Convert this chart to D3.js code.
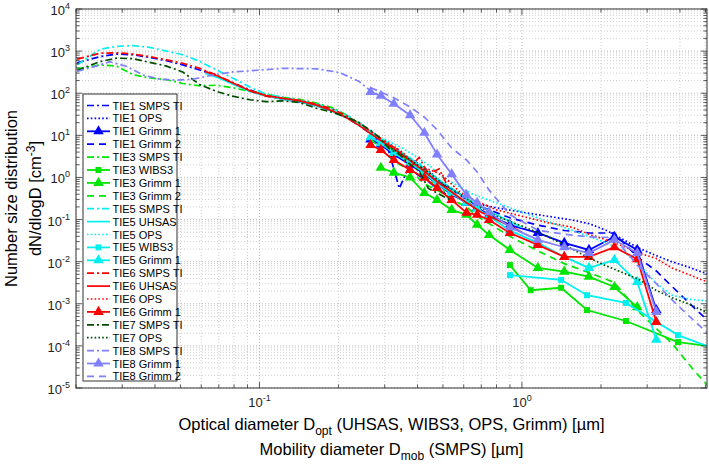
<!DOCTYPE html>
<html>
<head>
<meta charset="utf-8">
<script src="https://cdn.jsdelivr.net/npm/d3@7"></script>
<style>
  body { margin: 0; background: #fff; }
  text { font-family: "Liberation Sans", Arial, Helvetica, sans-serif; }
</style>
</head>
<body>
<div id="chart"></div>
<script>
// ---- data (diameter in µm, dN/dlogD in cm^-3) ----
const smpsD = [0.0202, 0.0247, 0.0286, 0.033, 0.0382, 0.0443, 0.051, 0.0592, 0.0687, 0.079, 0.092, 0.106, 0.123, 0.142, 0.165, 0.19, 0.215, 0.24, 0.265, 0.286, 0.31, 0.341, 0.37, 0.406, 0.44, 0.484, 0.53];
const tie1SmpsTi = [525, 740, 850, 820, 710, 590, 470, 355, 260, 175, 120, 87, 72, 62, 50, 38, 26, 17, 11, 7.8, 4.5, 0.55, 1.7, 1.1, 0.8, 0.5, 0.36];
const tie3SmpsTi = [380, 470, 440, 275, 230, 210, 170, 150, 155, 135, 110, 95, 80, 72, 58, 45, 30, 19, 12, 8.5, 5.5, 3.5, 2.5, 1.5, 0.9, 0.55, 0.4];
const tie5SmpsTi = [470, 1100, 1300, 1350, 1230, 1000, 820, 570, 355, 230, 140, 95, 80, 68, 55, 42, 30, 20, 13, 9, 6.5, 4, 3.0, 2.2, 1.2, 0.7, 0.45];
const tie6SmpsTi = [645, 890, 910, 850, 740, 617, 515, 390, 270, 180, 115, 85, 75, 68, 55, 42, 29, 19, 12.5, 9, 6, 4.5, 1.6, 3.0, 1.2, 1.6, 0.5];
const tie7SmpsTi = [345, 565, 680, 660, 540, 440, 320, 160, 110, 85, 70, 63, 66, 60, 44, 35, 27, 20, 13, 9, 5, 3.5, 2.2, 1.4, 0.55, 0.4, 0.3];
const tie8SmpsTi = [[0.0202, 330], [0.0247, 470], [0.0269, 560], [0.0313, 430], [0.036, 270], [0.0417, 215], [0.0484, 205], [0.0557, 215], [0.0664, 270], [0.079, 320], [0.0918, 340], [0.1225, 390], [0.165, 380], [0.202, 310], [0.24, 190], [0.262, 120], [0.29, 85], [0.31, 70]];

const uhsasD = [0.062, 0.07, 0.08, 0.092, 0.106, 0.123, 0.142, 0.165, 0.19, 0.215, 0.24, 0.265, 0.29, 0.325, 0.375, 0.425, 0.475, 0.54, 0.615, 0.7, 0.8, 0.9, 1.0];
const tie5Uhsas = [300, 230, 160, 110, 85, 72, 63, 50, 37, 26, 17.5, 11.5, 8, 5.2, 2.8, 1.6, 0.95, 0.55, 0.32, 0.2, 0.13, 0.09, 0.065];
const tie6Uhsas = [330, 250, 170, 115, 88, 76, 66, 52, 38, 26, 17, 11, 7.5, 4.8, 2.5, 1.4, 0.8, 0.45, 0.25, 0.15, 0.1, 0.07, 0.05];

const opsD = [0.3, 0.35, 0.4, 0.45, 0.5, 0.58, 0.65, 0.8, 1.0, 1.25, 1.55, 1.8, 2.09, 2.4, 2.79, 3.24, 3.72, 4.3, 4.84, 5.5];
const tie1Ops = [7, 3.5, 2.2, 1.3, 0.7, 0.4, 0.25, 0.19, 0.15, 0.12, 0.098, 0.08, 0.056, 0.035, 0.021, 0.014, 0.01, 0.0075, 0.0057, 0.0045];
const tie5Ops = [8, 5, 3, 1.8, 1.0, 0.6, 0.4, 0.25, 0.15, 0.09, 0.056, 0.04, 0.028, 0.019, 0.0085, 0.0031, 0.0016, 0.0013, 0.0012, 0.0011];
const tie6Ops = [7.5, 4.0, 1.8, 1.5, 1.1, 0.45, 0.3, 0.17, 0.12, 0.085, 0.066, 0.045, 0.033, 0.024, 0.016, 0.012, 0.0071, 0.005, 0.0037, 0.0028];
const tie7Ops = [6, 3.5, 2, 1.2, 0.7, 0.4, 0.25, 0.12, 0.07, 0.04, 0.02, 0.0123, 0.008, 0.0056, 0.0038, 0.0021, 0.0014, 0.001, 0.00071, 0.0005];

const grimmD = [0.265, 0.29, 0.325, 0.375, 0.425, 0.475, 0.54, 0.615, 0.675, 0.75, 0.9, 1.15, 1.45, 1.8, 2.25, 2.75, 3.25, 3.75, 4.5, 5.75];
const tie1Grimm1 = [8, 6, 3.5, 2.0, 1.2, 0.7, 0.4, 0.25, 0.19, 0.13, 0.074, 0.048, 0.028, 0.019, 0.039, 0.019, 0.00071];
const tie3Grimm1 = [null, 1.7, 1.3, 1.0, 0.43, 0.29, 0.17, 0.13, 0.075, 0.043, 0.019, 0.0071, 0.0058, 0.0044, 0.0025, 0.00083];
const tie5Grimm1 = [9, 6.5, 3.8, 2.2, 1.3, 0.7, 0.42, 0.25, 0.18, 0.12, 0.055, 0.028, 0.013, 0.0071, 0.011, 0.0033, 0.00014];
const tie6Grimm1 = [5.9, 4.5, 2.6, 1.5, 0.98, 0.56, 0.29, 0.145, 0.13, 0.098, 0.048, 0.025, 0.013, 0.013, 0.022, 0.0115, 0.00037];
const tie8Grimm1 = [107, 87, 56, 30, 11.5, 3.5, 1.2, 0.38, 0.25, 0.15, 0.066, 0.033, 0.022, 0.016, 0.033, 0.016, 0.00064];
const tie1Grimm2 = [9, 7, 4, 2.5, 1.4, 0.8, 0.5, 0.3, 0.22, 0.17, 0.11, 0.074, 0.055, 0.048, 0.048, 0.013, 0.006, 0.0025, 0.00083, 0.0002];
const tie3Grimm2 = [8, 5, 2.4, 1.5, 0.7, 0.5, 0.3, 0.2, 0.12, 0.08, 0.04, 0.018, 0.009, 0.0055, 0.0032, 0.0007, 0.00026, 0.00011, 0.000027, 0.000005];
const tie8Grimm2 = [135, 107, 78, 47, 27, 13.5, 5.0, 2.6, 1.35, 0.5, 0.13, 0.056, 0.045, 0.039, 0.037, 0.0083, 0.003, 0.0012, 0.00041, 0.0001];

const tie3Wibs3 = [[0.9, 0.0083], [1.08, 0.0021], [1.41, 0.0024], [1.77, 0.00071], [2.49, 0.00039], [3.93, 0.000123], [6.0, 0.000087]];
const tie5Wibs3 = [[0.9, 0.0048], [1.41, 0.0037], [1.77, 0.0016], [2.49, 0.00105], [3.93, 0.00018], [6.0, 0.000067]];

const xTickExp = [-1, 0];
const yTickExp = [-5, -4, -3, -2, -1, 0, 1, 2, 3, 4];

// ---- styling ----
const BLUE = "#0000ff", GREEN = "#00e600", CYAN = "#00f0f0", RED = "#ff0000",
      DKGREEN = "#004d00", PURPLE = "#8080ff";
const DASHDOT = "7,3,2,3", DOTTED = "1.6,2.2", DASHED = "7,5", SOLID = null;

const zip = (xs, ys) => ys.map((v, i) => [xs[i], v]).filter((p) => p[1] != null);

const series = [
  { name: "TIE1 SMPS TI", data: zip(smpsD, tie1SmpsTi), color: BLUE, dash: DASHDOT },
  { name: "TIE1 OPS", data: zip(opsD, tie1Ops), color: BLUE, dash: DOTTED },
  { name: "TIE1 Grimm 1", data: zip(grimmD, tie1Grimm1), color: BLUE, dash: SOLID, marker: "tri" },
  { name: "TIE1 Grimm 2", data: zip(grimmD, tie1Grimm2), color: BLUE, dash: DASHED },
  { name: "TIE3 SMPS TI", data: zip(smpsD, tie3SmpsTi), color: GREEN, dash: DASHDOT },
  { name: "TIE3 WIBS3", data: tie3Wibs3, color: GREEN, dash: SOLID, marker: "sq" },
  { name: "TIE3 Grimm 1", data: zip(grimmD, tie3Grimm1), color: GREEN, dash: SOLID, marker: "tri" },
  { name: "TIE3 Grimm 2", data: zip(grimmD, tie3Grimm2), color: GREEN, dash: DASHED },
  { name: "TIE5 SMPS TI", data: zip(smpsD, tie5SmpsTi), color: CYAN, dash: DASHDOT },
  { name: "TIE5 UHSAS", data: zip(uhsasD, tie5Uhsas), color: CYAN, dash: SOLID },
  { name: "TIE5 OPS", data: zip(opsD, tie5Ops), color: CYAN, dash: DOTTED },
  { name: "TIE5 WIBS3", data: tie5Wibs3, color: CYAN, dash: SOLID, marker: "sq" },
  { name: "TIE5 Grimm 1", data: zip(grimmD, tie5Grimm1), color: CYAN, dash: SOLID, marker: "tri" },
  { name: "TIE6 SMPS TI", data: zip(smpsD, tie6SmpsTi), color: RED, dash: DASHDOT },
  { name: "TIE6 UHSAS", data: zip(uhsasD, tie6Uhsas), color: RED, dash: SOLID },
  { name: "TIE6 OPS", data: zip(opsD, tie6Ops), color: RED, dash: DOTTED },
  { name: "TIE6 Grimm 1", data: zip(grimmD, tie6Grimm1), color: RED, dash: SOLID, marker: "tri" },
  { name: "TIE7 SMPS TI", data: zip(smpsD, tie7SmpsTi), color: DKGREEN, dash: DASHDOT },
  { name: "TIE7 OPS", data: zip(opsD, tie7Ops), color: DKGREEN, dash: DOTTED },
  { name: "TIE8 SMPS TI", data: tie8SmpsTi, color: PURPLE, dash: DASHDOT },
  { name: "TIE8 Grimm 1", data: zip(grimmD, tie8Grimm1), color: PURPLE, dash: SOLID, marker: "tri" },
  { name: "TIE8 Grimm 2", data: zip(grimmD, tie8Grimm2), color: PURPLE, dash: DASHED }
];

// ---- layout ----
const width = 709, height = 467;
const pLeft = 76, pRight = 707, pTop = 9, pBottom = 388;

const svg = d3.select("#chart").append("svg")
  .attr("width", width).attr("height", height);

const x = d3.scaleLog().domain([0.02, 5.07]).range([pLeft, pRight]);
const y = d3.scaleLog().domain([1e-5, 1e4]).range([pBottom, pTop]);

svg.append("defs").append("clipPath").attr("id", "plotclip")
  .append("rect").attr("x", pLeft).attr("y", pTop)
  .attr("width", pRight - pLeft).attr("height", pBottom - pTop);

// grid (major + minor, dotted like matlab)
const xMinor = [], yMinor = [];
[0.01, 0.1, 1].forEach((dec) => {
  for (let k = 2; k <= 9; k++) {
    const v = dec * k;
    if (v >= 0.02 && v <= 5.07) xMinor.push(v);
  }
});
yTickExp.forEach((e) => {
  for (let k = 2; k <= 9; k++) {
    const v = k * Math.pow(10, e);
    if (v < 1e4) yMinor.push(v);
  }
});
const xMajor = xTickExp.map((e) => Math.pow(10, e));
const yMajor = yTickExp.map((e) => Math.pow(10, e));

const grid = svg.append("g");
grid.selectAll(".gxm").data(xMinor).enter().append("line")
  .attr("x1", (d) => x(d)).attr("x2", (d) => x(d))
  .attr("y1", pTop).attr("y2", pBottom)
  .attr("stroke", "#c4c4c4").attr("stroke-width", 0.8).attr("stroke-dasharray", "1,2");
grid.selectAll(".gym").data(yMinor).enter().append("line")
  .attr("y1", (d) => y(d)).attr("y2", (d) => y(d))
  .attr("x1", pLeft).attr("x2", pRight)
  .attr("stroke", "#c4c4c4").attr("stroke-width", 0.8).attr("stroke-dasharray", "1,2");
grid.selectAll(".gxM").data(xMajor).enter().append("line")
  .attr("x1", (d) => x(d)).attr("x2", (d) => x(d))
  .attr("y1", pTop).attr("y2", pBottom)
  .attr("stroke", "#a8a8a8").attr("stroke-width", 0.8).attr("stroke-dasharray", "1,2");
grid.selectAll(".gyM").data(yMajor).enter().append("line")
  .attr("y1", (d) => y(d)).attr("y2", (d) => y(d))
  .attr("x1", pLeft).attr("x2", pRight)
  .attr("stroke", "#a8a8a8").attr("stroke-width", 0.8).attr("stroke-dasharray", "1,2");

// series
const plot = svg.append("g").attr("clip-path", "url(#plotclip)");
const line = d3.line().x((d) => x(d[0])).y((d) => y(d[1]));
const triSym = d3.symbol().type(d3.symbolTriangle).size(48);
const sqSym = d3.symbol().type(d3.symbolSquare).size(36);

series.forEach((s) => {
  plot.append("path")
    .datum(s.data)
    .attr("d", line)
    .attr("fill", "none")
    .attr("stroke", s.color)
    .attr("stroke-width", s.marker ? 1.8 : 1.7)
    .attr("stroke-dasharray", s.dash);
  if (s.marker) {
    plot.selectAll(null).data(s.data).enter().append("path")
      .attr("d", s.marker === "tri" ? triSym : sqSym)
      .attr("transform", (d) => `translate(${x(d[0])},${y(d[1])})`)
      .attr("fill", s.color);
  }
});

// frame and ticks
const axisCol = "#333";
const ticks = svg.append("g").attr("stroke", axisCol).attr("stroke-width", 0.8);
xMajor.concat(xMinor).forEach((v) => {
  const len = xMajor.includes(v) ? 6 : 3.5;
  ticks.append("line").attr("x1", x(v)).attr("x2", x(v)).attr("y1", pBottom).attr("y2", pBottom - len);
  ticks.append("line").attr("x1", x(v)).attr("x2", x(v)).attr("y1", pTop).attr("y2", pTop + len);
});
yMajor.concat(yMinor).forEach((v) => {
  const len = yMajor.includes(v) ? 6 : 3.5;
  ticks.append("line").attr("y1", y(v)).attr("y2", y(v)).attr("x1", pLeft).attr("x2", pLeft + len);
  ticks.append("line").attr("y1", y(v)).attr("y2", y(v)).attr("x1", pRight).attr("x2", pRight - len);
});
svg.append("rect").attr("x", pLeft).attr("y", pTop)
  .attr("width", pRight - pLeft).attr("height", pBottom - pTop)
  .attr("fill", "none").attr("stroke", axisCol).attr("stroke-width", 1);

// tick labels
xTickExp.forEach((e) => {
  const t = svg.append("text").attr("x", x(Math.pow(10, e))).attr("y", 407)
    .attr("text-anchor", "middle").attr("font-size", 13).attr("fill", "#222");
  t.append("tspan").text("10");
  t.append("tspan").attr("dy", -6).attr("font-size", 9).text(e);
});
yTickExp.forEach((e) => {
  const t = svg.append("text").attr("x", 70).attr("y", y(Math.pow(10, e)) + 6)
    .attr("text-anchor", "end").attr("font-size", 13).attr("fill", "#222");
  t.append("tspan").text("10");
  t.append("tspan").attr("dy", -6).attr("font-size", 9).text(e);
});

// axis titles
const xt1 = svg.append("text").attr("x", (pLeft + pRight) / 2).attr("y", 430)
  .attr("text-anchor", "middle").attr("font-size", 16.5).attr("fill", "#000");
xt1.append("tspan").text("Optical diameter D");
xt1.append("tspan").attr("dy", 5).attr("font-size", 12).text("opt");
xt1.append("tspan").attr("dy", -5).text(" (UHSAS, WIBS3, OPS, Grimm) [µm]");

const xt2 = svg.append("text").attr("x", (pLeft + pRight) / 2).attr("y", 455)
  .attr("text-anchor", "middle").attr("font-size", 16.5).attr("fill", "#000");
xt2.append("tspan").text("Mobility diameter D");
xt2.append("tspan").attr("dy", 5).attr("font-size", 12).text("mob");
xt2.append("tspan").attr("dy", -5).text(" (SMPS) [µm]");

const yc = (pTop + pBottom) / 2;
svg.append("text").attr("transform", `translate(17,${yc}) rotate(-90)`)
  .attr("text-anchor", "middle").attr("font-size", 16.5).attr("fill", "#000")
  .text("Number size distribution");
const yt2 = svg.append("text").attr("transform", `translate(41,${yc}) rotate(-90)`)
  .attr("text-anchor", "middle").attr("font-size", 16.5).attr("fill", "#000");
yt2.append("tspan").text("dN/dlogD [cm");
yt2.append("tspan").attr("dy", -6).attr("font-size", 12).text("-3");
yt2.append("tspan").attr("dy", 6).text("]");

// legend
const lg = svg.append("g");
const lgX = 83, lgY = 94, lgW = 94, lgH = 287, rowH = 12.9;
lg.append("rect").attr("x", lgX).attr("y", lgY).attr("width", lgW).attr("height", lgH)
  .attr("fill", "#fff").attr("stroke", axisCol).attr("stroke-width", 1);
series.forEach((s, i) => {
  const cy = lgY + 11.5 + i * rowH;
  lg.append("line").attr("x1", 87).attr("x2", 110).attr("y1", cy).attr("y2", cy)
    .attr("stroke", s.color).attr("stroke-width", s.marker ? 1.8 : 1.7)
    .attr("stroke-dasharray", s.dash);
  if (s.marker) {
    lg.append("path").attr("d", s.marker === "tri" ? triSym : sqSym)
      .attr("transform", `translate(98.5,${cy})`).attr("fill", s.color);
  }
  lg.append("text").attr("x", 112.5).attr("y", cy + 4)
    .attr("font-size", 11).attr("fill", "#000").text(s.name);
});
</script>
</body>
</html>
